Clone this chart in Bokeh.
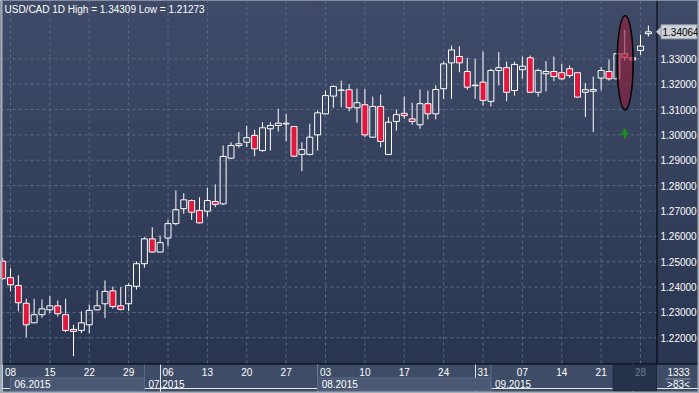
import numpy as np
from bokeh.plotting import figure
from bokeh.models import Range1d, Arrow, NormalHead, ColumnDataSource
from bokeh.core.properties import value
from bokeh.embed import file_html
from bokeh.resources import INLINE

# ---------------- data (USD/CAD daily, 05.06.2015 - 29.09.2015) ----------------
dates = ["06-05", "06-08", "06-09", "06-10", "06-11", "06-12", "06-15", "06-16", "06-17", "06-18",
         "06-19", "06-22", "06-23", "06-24", "06-25", "06-26", "06-29", "06-30", "07-01", "07-02",
         "07-03", "07-06", "07-07", "07-08", "07-09", "07-10", "07-13", "07-14", "07-15", "07-16",
         "07-17", "07-20", "07-21", "07-22", "07-23", "07-24", "07-27", "07-28", "07-29", "07-30",
         "07-31", "08-03", "08-04", "08-05", "08-06", "08-07", "08-10", "08-11", "08-12", "08-13",
         "08-14", "08-17", "08-18", "08-19", "08-20", "08-21", "08-24", "08-25", "08-26", "08-27",
         "08-28", "08-31", "09-01", "09-02", "09-03", "09-04", "09-07", "09-08", "09-09", "09-10",
         "09-11", "09-14", "09-15", "09-16", "09-17", "09-18", "09-21", "09-22", "09-23", "09-24",
         "09-25", "09-28", "09-29"]
opens = [1.2502, 1.2437, 1.2406, 1.2336, 1.2259, 1.2291, 1.2310, 1.2326, 1.2291, 1.2233,
         1.2229, 1.2251, 1.2310, 1.2334, 1.2385, 1.2326, 1.2334, 1.2403, 1.2492, 1.2590,
         1.2538, 1.2593, 1.2650, 1.2709, 1.2741, 1.2702, 1.2699, 1.2737, 1.2728, 1.2908,
         1.2958, 1.2971, 1.2998, 1.2938, 1.3024, 1.3037, 1.3043, 1.3033, 1.2923, 1.2923,
         1.3000, 1.3083, 1.3153, 1.3175, 1.3178, 1.3107, 1.3119, 1.2991, 1.3112, 1.2923,
         1.3053, 1.3085, 1.3063, 1.3040, 1.3123, 1.3083, 1.3182, 1.3284, 1.3309, 1.3250,
         1.3194, 1.3208, 1.3132, 1.3254, 1.3265, 1.3175, 1.3257, 1.3304, 1.3168, 1.3241,
         1.3250, 1.3245, 1.3261, 1.3245, 1.3168, 1.3172, 1.3224, 1.3250, 1.3221, 1.3320,
         1.3304, 1.3333, 1.3399]
highs = [1.2515, 1.2474, 1.2446, 1.2354, 1.2354, 1.2351, 1.2364, 1.2347, 1.2354, 1.2251,
         1.2304, 1.2331, 1.2387, 1.2426, 1.2402, 1.2400, 1.2415, 1.2501, 1.2597, 1.2636,
         1.2603, 1.2665, 1.2781, 1.2770, 1.2745, 1.2754, 1.2791, 1.2805, 1.2958, 1.2971,
         1.3011, 1.3036, 1.3020, 1.3050, 1.3050, 1.3103, 1.3083, 1.3036, 1.2971, 1.3044,
         1.3096, 1.3175, 1.3195, 1.3214, 1.3199, 1.3182, 1.3182, 1.3151, 1.3159, 1.3070,
         1.3100, 1.3151, 1.3127, 1.3179, 1.3175, 1.3195, 1.3289, 1.3352, 1.3349, 1.3304,
         1.3300, 1.3329, 1.3261, 1.3326, 1.3289, 1.3289, 1.3309, 1.3313, 1.3261, 1.3291,
         1.3309, 1.3280, 1.3274, 1.3246, 1.3205, 1.3230, 1.3267, 1.3297, 1.3320, 1.3414,
         1.3306, 1.3395, 1.34309]
lows = [1.2428, 1.2383, 1.2304, 1.2202, 1.2257, 1.2279, 1.2297, 1.2284, 1.2222, 1.21273,
        1.2218, 1.2218, 1.2308, 1.2277, 1.2314, 1.2308, 1.2305, 1.2390, 1.2476, 1.2536,
        1.2536, 1.2561, 1.2643, 1.2689, 1.2665, 1.2651, 1.2678, 1.2715, 1.2724, 1.2906,
        1.2949, 1.2952, 1.2916, 1.2934, 1.2938, 1.3013, 1.2974, 1.2912, 1.2857, 1.2919,
        1.2938, 1.3081, 1.3107, 1.3109, 1.3093, 1.3048, 1.2991, 1.2990, 1.2951, 1.2921,
        1.3017, 1.3063, 1.3040, 1.3024, 1.3061, 1.3061, 1.3142, 1.3142, 1.3247, 1.3178,
        1.3142, 1.3116, 1.3112, 1.3195, 1.3133, 1.3155, 1.3221, 1.3166, 1.3151, 1.3171,
        1.3212, 1.3217, 1.3225, 1.3148, 1.3070, 1.3011, 1.3175, 1.3214, 1.3221, 1.3293,
        1.3294, 1.3316, 1.3388]
closes = [1.2433, 1.2409, 1.2338, 1.2251, 1.2291, 1.2314, 1.2326, 1.2295, 1.2229, 1.2225,
          1.2259, 1.2308, 1.2326, 1.2383, 1.2323, 1.2312, 1.2406, 1.2492, 1.2590, 1.2538,
          1.2575, 1.2650, 1.2705, 1.2744, 1.2695, 1.2653, 1.2741, 1.2726, 1.2915, 1.2958,
          1.2965, 1.2989, 1.2945, 1.3028, 1.3037, 1.3046, 1.3046, 1.2916, 1.2942, 1.2991,
          1.3087, 1.3155, 1.3191, 1.3177, 1.3107, 1.3127, 1.3000, 1.3112, 1.2974, 1.3050,
          1.3080, 1.3076, 1.3053, 1.3123, 1.3083, 1.3179, 1.3280, 1.3335, 1.3284, 1.3188,
          1.3196, 1.3136, 1.3254, 1.3265, 1.3168, 1.3278, 1.3271, 1.3168, 1.3254, 1.3250,
          1.3230, 1.3221, 1.3234, 1.3149, 1.3178, 1.3179, 1.3254, 1.3221, 1.3320, 1.3306,
          1.3296, 1.3350, 1.34064]

# price scale
price_ticks = [1.22, 1.23, 1.24, 1.25, 1.26, 1.27, 1.28, 1.29, 1.30, 1.31, 1.32, 1.33]
price_labels = ["1.22000", "1.23000", "1.24000", "1.25000", "1.26000", "1.27000",
                "1.28000", "1.29000", "1.30000", "1.31000", "1.32000", "1.33000"]
# time scale (bar index of each Monday)
week_ticks = [1, 6, 11, 16, 21, 26, 31, 36, 41, 46, 51, 56, 61, 66, 71, 76, 81]
week_labels = ["08", "15", "22", "29", "06", "13", "20", "27", "03", "10", "17", "24",
               "31", "07", "14", "21", "28"]
month_starts = [1, 18, 40, 62]
month_ends = [18, 40, 62, 83.03]
month_labels = ["06.2015", "07.2015", "08.2015", "09.2015"]
title_text = "USD/CAD 1D High = 1.34309 Low = 1.21273"
last_price = 1.34064
last_price_label = "1.34064"
corner_top, corner_bottom = "1333", ">83<"

# annotation on candle 24.09.2015
mark_x, mark_y, mark_w, mark_h = 79.05, 1.3285, 2.03, 0.0372
arrow_x, arrow_y0, arrow_y1 = 79, 1.2986, 1.3025
cur_week_start = 77.53
x_end = 83.03          # last visible bar position of the plot area

# ---------------- styling ----------------
W, H = 699, 393
PLOT_BOTTOM = 363      # px: top of time scale
PLOT_RIGHT = 656       # px: left of price scale
FONT = "Liberation Sans"
RED = "#e2173d"
GRID = "#5b6a89"
STRIP_BG = "#3e4c67"
MONTH_BOX = "#4a5874"
MONTH_LINE = "#5d6b87"
EDGE = "#a3abb9"

p = figure(width=W, height=H, output_backend="svg", toolbar_location=None,
           x_range=Range1d(-0.27, 88.49), y_range=Range1d(1.19802, 1.35299),
           x_axis_location=None, y_axis_location=None, min_border=0)
p.extra_x_ranges = {"px": Range1d(0, W)}
p.extra_y_ranges = {"px": Range1d(H, 0)}
p.outline_line_color = None
p.background_fill_color = STRIP_BG
p.border_fill_color = STRIP_BG

PX = dict(x_range_name="px", y_range_name="px")

# vertical gradient behind chart and price scale
top_c = np.array([63, 75, 104])
bot_c = np.array([42, 54, 81])
N = 60
edges = np.linspace(0, PLOT_BOTTOM, N + 1)
tt = (np.arange(N) + 0.5) / N
cols = ["#%02x%02x%02x" % tuple(int(v) for v in (top_c * (1 - t) + bot_c * t)) for t in tt]
p.quad(left=0, right=W, top=edges[:-1], bottom=edges[1:] + 0.6, fill_color=cols,
       line_color=None, **PX)

# grid (dashed)
p.segment(x0=week_ticks, x1=week_ticks, y0=0, y1=PLOT_BOTTOM, line_color=GRID,
          line_dash="3 3", line_width=1, y_range_name="px")
p.segment(x0=0, x1=PLOT_RIGHT, y0=price_ticks, y1=price_ticks, line_color=GRID,
          line_dash="3 3", line_width=1, x_range_name="px")

# ---------------- candles ----------------
idx = np.arange(len(opens))
o = np.array(opens); c = np.array(closes); h = np.array(highs); l = np.array(lows)
body_top = np.maximum(o, c)
body_bot = np.minimum(o, c)
up = c >= o

p.segment(x0=idx, y0=h, x1=idx, y1=body_top, line_color="white", line_width=1)
p.segment(x0=idx, y0=body_bot, x1=idx, y1=l, line_color="white", line_width=1)
src_up = ColumnDataSource(dict(x=idx[up], top=body_top[up], bottom=body_bot[up]))
src_dn = ColumnDataSource(dict(x=idx[~up], top=body_top[~up], bottom=body_bot[~up]))
p.vbar(x="x", top="top", bottom="bottom", width=0.76, source=src_up,
       fill_color=None, line_color="white", line_width=1)
p.vbar(x="x", top="top", bottom="bottom", width=0.76, source=src_dn,
       fill_color=RED, line_color="white", line_width=1)

# marking ellipse + arrow
p.ellipse(x=[mark_x], y=[mark_y], width=[mark_w], height=[mark_h],
          fill_color="#951b37", fill_alpha=0.6, line_color="black", line_width=1.5)
GREEN = "#1a901a"
p.add_layout(Arrow(end=NormalHead(size=6, fill_color=GREEN, line_color=GREEN),
                   x_start=arrow_x, y_start=arrow_y0, x_end=arrow_x, y_end=arrow_y1,
                   line_color=GREEN, line_width=2))

# title
p.text(x=[4], y=[9], text=[title_text], text_font=value(FONT), text_font_size="10px",
       text_color="white", text_align="left", text_baseline="middle", **PX)

# ---------------- price scale ----------------
p.segment(x0=[PLOT_RIGHT + 0.5], x1=[PLOT_RIGHT + 0.5], y0=[0], y1=[PLOT_BOTTOM],
          line_color="black", line_width=1, **PX)
p.text(x=PLOT_RIGHT + 4, y=price_ticks, text=price_labels, text_font=value(FONT),
       text_font_size="10px", text_color="white", text_align="left", text_baseline="middle",
       x_range_name="px")
# last price tag
tag_h = 0.0028
p.patch(x=[PLOT_RIGHT, PLOT_RIGHT + 5, PLOT_RIGHT + 5],
        y=[last_price, last_price + 0.0019, last_price - 0.0019],
        fill_color="#cdd1d8", line_color="#cdd1d8", x_range_name="px")
p.quad(left=[PLOT_RIGHT + 4.5], right=[W - 2.5], top=[last_price + tag_h], bottom=[last_price - tag_h],
       fill_color="#cdd1d8", line_color="#8d95a3", line_width=1, x_range_name="px")
p.text(x=[PLOT_RIGHT + 6], y=[last_price], text=[last_price_label], text_font=value(FONT),
       text_font_size="10px", text_color="black", text_align="left", text_baseline="middle",
       x_range_name="px")

# ---------------- time scale ----------------
p.segment(x0=[0], x1=[W], y0=[PLOT_BOTTOM + 0.5], y1=[PLOT_BOTTOM + 0.5],
          line_color="black", line_width=1, **PX)
# month boxes (alternate months lighter)
for k, (s, e) in enumerate(zip(month_starts, month_ends)):
    if k % 2 == 0:
        p.quad(left=[s], right=[e], top=[377.5], bottom=[390.5], fill_color=MONTH_BOX,
               line_color=MONTH_LINE, line_width=1, y_range_name="px")
p.segment(x0=month_starts[1:], x1=month_starts[1:], y0=364, y1=391,
          line_color=MONTH_LINE, line_width=1, y_range_name="px")
p.text(x=month_starts, y=383.5, text=month_labels, x_offset=4, text_font=value(FONT),
       text_font_size="10px", text_color="white", text_align="left", text_baseline="middle",
       y_range_name="px")
# current week box
p.quad(left=[cur_week_start], right=[x_end], top=[364.5], bottom=[390.5], fill_color="#27324b",
       line_color="#1e2739", line_width=1, y_range_name="px")
week_colors = ["white"] * (len(week_ticks) - 1) + ["#707b92"]
p.text(x=week_ticks, y=371.5, text=week_labels, text_color=week_colors, text_font=value(FONT),
       text_font_size="10px", text_align="center", text_baseline="middle", y_range_name="px")
# corner counter
p.text(x=[678], y=[371], text=[corner_top], text_font=value(FONT), text_font_size="10px",
       text_color="white", text_align="center", text_baseline="middle", **PX)
p.segment(x0=[665], x1=[690], y0=[378.5], y1=[378.5], line_color="#8e98ab", line_width=1, **PX)
p.text(x=[678], y=[383.5], text=[corner_bottom], text_font=value(FONT), text_font_size="10px",
       text_color="white", text_align="center", text_baseline="middle", **PX)

# window edge
p.quad(left=[0, W - 2, 0], right=[2, W, W], top=[0, 0, H - 2], bottom=[H, H, H],
       fill_color=EDGE, line_color=None, **PX)

open("out.html", "w").write(file_html(p, INLINE))
